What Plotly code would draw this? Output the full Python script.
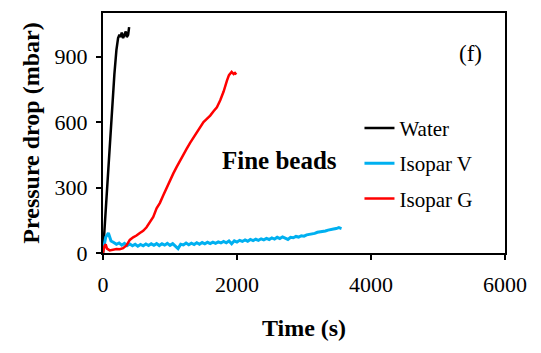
import plotly.graph_objects as go

# ---- data ----
water_t = [0, 30, 60, 90, 115, 140, 170, 200, 225, 245, 260, 280, 300, 320, 340, 355, 375, 390]
water_p = [0, 150, 310, 460, 600, 720, 820, 930, 985, 1000, 990, 1010, 985, 1000, 1015, 990, 1000, 1035]

isov_t = [0, 40, 80, 120, 160, 200, 240, 280, 320, 360, 400, 440, 480, 520, 560, 600, 640, 680,
          720, 760, 800, 840, 880, 920, 960, 1000, 1040, 1080, 1120, 1160, 1200, 1240, 1280, 1320,
          1360, 1400, 1440, 1480, 1520, 1560, 1600, 1640, 1680, 1720, 1760, 1800, 1840, 1880, 1920,
          1960, 2000, 2040, 2080, 2120, 2160, 2200, 2240, 2280, 2320, 2360, 2400, 2440, 2480, 2520,
          2560, 2600, 2640, 2680, 2720, 2760, 2800, 2840, 2880, 2920, 2960, 3000, 3040, 3080, 3120,
          3160, 3200, 3240, 3280, 3320, 3360, 3400, 3440, 3480, 3520, 3560]
isov_p = [5, 72, 92, 55, 48, 40, 46, 36, 44, 34, 41, 33, 40, 31, 39, 33, 41, 34,
          42, 35, 43, 34, 42, 36, 44, 35, 43, 30, 20, 40, 37, 46, 38, 45,
          39, 47, 40, 48, 42, 49, 43, 50, 44, 51, 46, 53, 47, 55, 42,
          56, 50, 58, 53, 60, 54, 62, 57, 63, 58, 65, 60, 67, 62, 69,
          64, 72, 66, 74, 68, 62, 72, 70, 76, 73, 79, 77, 83, 85, 89,
          90, 95, 96, 100, 101, 105, 106, 110, 112, 116, 112]

isog_t = [0, 20, 40, 60, 100, 150, 200, 250, 300, 350, 400, 450, 500, 550, 600, 650, 700, 750,
          800, 850, 900, 950, 1000, 1050, 1100, 1150, 1200, 1250, 1300, 1350, 1400, 1450, 1500,
          1550, 1600, 1650, 1700, 1750, 1800, 1850, 1880, 1920, 1950, 1970, 1990]
isog_p = [0, 30, 40, 20, 12, 15, 18, 17, 22, 35, 60, 72, 80, 92, 102, 118, 140, 165,
          205, 230, 265, 300, 335, 365, 395, 425, 450, 478, 505, 530, 555, 578, 600,
          615, 630, 650, 668, 700, 740, 790, 815, 830, 820, 825, 818]

x_ticks = [0, 2000, 4000, 6000]
y_ticks = [0, 300, 600, 900]

FONT = "Liberation Serif, Times New Roman, serif"

fig = go.Figure()
fig.add_trace(go.Scatter(x=water_t, y=water_p, mode="lines", name="Water",
                         line=dict(color="#000000", width=2.5), legendgroup="a"))
fig.add_trace(go.Scatter(x=isov_t, y=isov_p, mode="lines", name="Isopar V",
                         line=dict(color="#00B0F0", width=3), legendgroup="b"))
fig.add_trace(go.Scatter(x=isog_t, y=isog_p, mode="lines", name="Isopar G",
                         line=dict(color="#FF0000", width=2.5), legendgroup="c"))

fig.update_layout(
    width=541, height=353,
    margin=dict(l=103, r=36, t=11, b=100),
    plot_bgcolor="white", paper_bgcolor="white",
    font=dict(family=FONT, size=20, color="black"),
    showlegend=True,
    legend=dict(x=0.638, y=0.605, xanchor="left", yanchor="top",
                bgcolor="rgba(0,0,0,0)", font=dict(size=21, family=FONT, color="black"),
                traceorder="grouped", tracegroupgap=5, itemwidth=30),
    xaxis=dict(range=[0, 6000], tickvals=x_ticks, showline=True, linecolor="black",
               linewidth=2, mirror=True, ticks="outside", ticklen=5, tickwidth=1.5,
               tickcolor="black", showgrid=False, zeroline=False, ticklabelstandoff=6,
               tickfont=dict(size=22, family=FONT, color="black"),
               title=dict(text="<b>Time (s)</b>", font=dict(size=24, family=FONT), standoff=23)),
    yaxis=dict(range=[0, 1100], tickvals=y_ticks, showline=True, linecolor="black",
               linewidth=2, mirror=True, ticks="outside", ticklen=5, tickwidth=1.5,
               tickcolor="black", showgrid=False, zeroline=False, ticklabelstandoff=4,
               tickfont=dict(size=22, family=FONT, color="black"),
               title=dict(text="<b>Pressure drop (mbar)</b>", font=dict(size=24, family=FONT), standoff=8)),
    annotations=[
        dict(x=2641, y=423, xref="x", yref="y", text="<b>Fine beads</b>", showarrow=False,
             font=dict(size=25, family=FONT, color="black")),
        dict(x=5480, y=914, xref="x", yref="y", text="(f)", showarrow=False,
             font=dict(size=23, family=FONT, color="black")),
    ],
)

fig.write_html("out.html")
